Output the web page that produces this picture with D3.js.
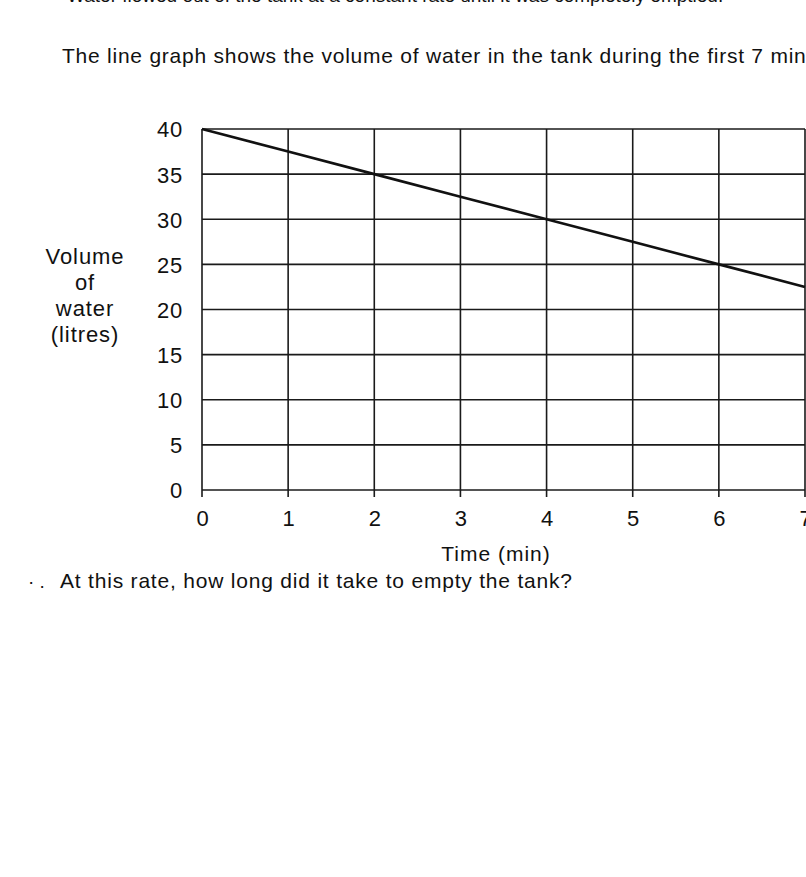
<!DOCTYPE html>
<html>
<head>
<meta charset="utf-8">
<script src="https://cdn.jsdelivr.net/npm/d3@7"></script>
<style>
  html, body { margin: 0; padding: 0; background: #fff; }
  svg { display: block; }
  text { font-family: Arial, "Liberation Sans", sans-serif; fill: #111; }
</style>
</head>
<body>
<svg id="chart" width="806" height="877"></svg>
<script>
// ---- data ----
const timeMin = [0, 1, 2, 3, 4, 5, 6, 7];
const volumeLitres = [40, 37.5, 35, 32.5, 30, 27.5, 25, 22.5];
const xTicks = [0, 1, 2, 3, 4, 5, 6, 7];
const yTicks = [0, 5, 10, 15, 20, 25, 30, 35, 40];
const yLabelLines = ["Volume", "of", "water", "(litres)"];
const xLabel = "Time (min)";
const introText = "Water flowed out of the tank at a constant rate until it was completely emptied.";
const captionText = "The line graph shows the volume of water in the tank during the first 7 min";
const questionText = "At this rate, how long did it take to empty the tank?";

const svg = d3.select("#chart");
const x = d3.scaleLinear().domain([0, 7]).range([202, 805]);
const y = d3.scaleLinear().domain([0, 40]).range([490, 129]);

// cut-off line at top (only the bottom of the letters is visible in the reference)
svg.append("text").attr("x", 67).attr("y", 2).attr("font-size", 19)
  .attr("fill", "#444").text(introText);

svg.append("text").attr("x", 62).attr("y", 63).attr("font-size", 21)
  .attr("letter-spacing", 0.76).text(captionText);

// grid
const grid = svg.append("g").attr("stroke", "#1a1a1a").attr("stroke-width", 1.6);
grid.selectAll("line.h").data(yTicks).join("line")
  .attr("x1", x(0)).attr("x2", x(7))
  .attr("y1", d => y(d)).attr("y2", d => y(d));
grid.selectAll("line.v").data(xTicks).join("line")
  .attr("x1", d => x(d)).attr("x2", d => x(d))
  .attr("y1", y(40)).attr("y2", y(0) + 7);

const fmt = d3.format("d");
// y tick labels
const yAxis = svg.append("g").attr("transform", `translate(${x(0) - 19},0)`)
  .call(d3.axisLeft(y).tickValues(yTicks).tickFormat(fmt).tickSize(0).tickPadding(0));
yAxis.select(".domain").remove();
yAxis.selectAll("text").attr("font-size", 22).attr("font-family", "Arial, 'Liberation Sans', sans-serif")
  .attr("fill", "#111").attr("dy", "0.36em").attr("letter-spacing", 0.8);

// x tick labels
const xAxis = svg.append("g").attr("transform", `translate(0,${y(0) + 20})`)
  .call(d3.axisBottom(x).tickValues(xTicks).tickFormat(fmt).tickSize(0).tickPadding(0));
xAxis.select(".domain").remove();
xAxis.selectAll("text").attr("font-size", 22).attr("font-family", "Arial, 'Liberation Sans', sans-serif")
  .attr("fill", "#111").attr("dy", "0.71em");

// y label
svg.append("text").attr("text-anchor", "middle").attr("font-size", 22).attr("letter-spacing", 0.9)
  .selectAll("tspan").data(yLabelLines).join("tspan")
  .attr("x", 85).attr("y", (d, i) => 264 + i * 26).text(d => d);

// x label
svg.append("text").attr("x", 496).attr("y", 561).attr("text-anchor", "middle")
  .attr("font-size", 21).attr("letter-spacing", 1).text(xLabel);

// line
svg.append("path")
  .datum(timeMin.map((t, i) => [t, volumeLitres[i]]))
  .attr("fill", "none").attr("stroke", "#111").attr("stroke-width", 2.6)
  .attr("d", d3.line().x(d => x(d[0])).y(d => y(d[1])));

// question
svg.append("text").attr("x", 28).attr("y", 588).attr("font-size", 19)
  .attr("fill", "#555").text("· .");
svg.append("text").attr("x", 60).attr("y", 588).attr("font-size", 21)
  .attr("letter-spacing", 0.8).text(questionText);
</script>
</body>
</html>
